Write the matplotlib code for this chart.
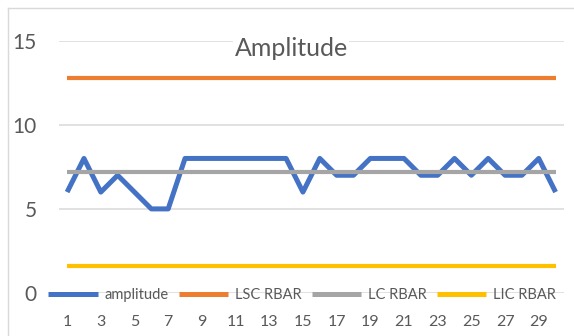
import matplotlib
matplotlib.use("Agg")
import matplotlib.pyplot as plt
from matplotlib.lines import Line2D

plt.rcParams['font.family'] = ['Lato', 'DejaVu Sans']

x = list(range(1, 31))
amplitude = [6, 8, 6, 7, 6, 5, 5, 8, 8, 8, 8, 8, 8, 8, 6, 8, 7, 7, 8, 8, 8, 7, 7, 8, 7, 8, 7, 7, 8, 6]
lsc_rbar = [12.8] * 30
lc_rbar = [7.2] * 30
lic_rbar = [1.6] * 30
series_names = ["amplitude", "LSC RBAR", "LC RBAR", "LIC RBAR"]
colors = ["#4472C4", "#ED7D31", "#A5A5A5", "#FFC000"]
xticks = list(range(1, 30, 2))
yticks = [0, 5, 10, 15]

W, H = 574, 336
fig = plt.figure(figsize=(W / 100, H / 100), dpi=100)
ax = fig.add_axes([58.7 / W, 1 - 293 / H, (564 - 58.7) / W, (293 - 40.7) / H])

for yv in yticks:
    ax.axhline(yv, color="#D9D9D9", lw=1.1, zorder=1)

ax.plot(x, amplitude, color=colors[0], lw=3.6, solid_joinstyle="round", solid_capstyle="butt", zorder=3, label=series_names[0])
ax.plot(x, lsc_rbar, color=colors[1], lw=3.0, solid_capstyle="butt", zorder=3, label=series_names[1])
ax.plot(x, lc_rbar, color=colors[2], lw=3.0, solid_capstyle="butt", zorder=4, label=series_names[2])
ax.plot(x, lic_rbar, color=colors[3], lw=3.0, solid_capstyle="butt", zorder=3, label=series_names[3])

ax.set_xlim(0.5, 30.5)
ax.set_ylim(0, 15)
ax.set_xticks(xticks)
ax.set_xticklabels([str(t) for t in xticks])
ax.set_yticks(yticks)
ax.set_yticklabels([str(t) for t in yticks])
ax.tick_params(axis="x", length=0, pad=16, labelsize=11.5, labelcolor="#595959")
ax.tick_params(axis="y", length=0, pad=16, labelsize=15, labelcolor="#595959")
for s in ax.spines.values():
    s.set_visible(False)
ax.patch.set_alpha(0)

ax.text(0.46, 0.97, "Amplitude", transform=ax.transAxes, ha="center", va="center",
        fontsize=18, color="#595959", zorder=10,
        bbox=dict(facecolor="white", edgecolor="none", pad=1))

leg = fig.legend(loc="center", bbox_to_anchor=(302 / W, 1 - 295 / H), ncol=4, frameon=False,
                 fontsize=10.5, handlelength=3.4, handletextpad=0.45, columnspacing=0.7,
                 borderaxespad=0, borderpad=0)
for t in leg.get_texts():
    t.set_color("#595959")
for lh in leg.get_lines():
    lh.set_linewidth(3.6)

fig.add_artist(Line2D([7.5 / W, 7.5 / W], [0, 1 - 7.5 / H], transform=fig.transFigure, color="#D9D9D9", lw=1))
fig.add_artist(Line2D([7.5 / W, 1], [1 - 7.5 / H, 1 - 7.5 / H], transform=fig.transFigure, color="#D9D9D9", lw=1))

fig.savefig("out.png", dpi=100, facecolor="white")
